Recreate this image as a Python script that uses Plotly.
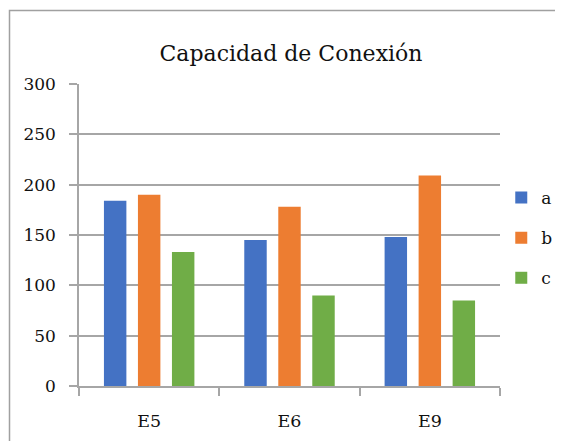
import plotly.graph_objects as go

categories = ["E5", "E6", "E9"]
series_names = ["a", "b", "c"]
values_a = [184, 145, 148]
values_b = [190, 178, 209]
values_c = [133, 90, 85]
colors = ["#4472C4", "#ED7D31", "#70AD47"]
y_ticks = [0, 50, 100, 150, 200, 250, 300]

FONT = "DejaVu Serif"
GRID = "#A6A6A6"
TXT = "#111111"

W, H = 555, 433  # page has an 8px body margin
L, R, T, B = 71, 492, 76, 378  # plot area in figure pixels
PW, PH = R - L, B - T

fig = go.Figure()
for name, vals, col in zip(series_names, [values_a, values_b, values_c], colors):
    fig.add_trace(go.Bar(x=categories, y=vals, name=name, marker_color=col,
                         marker_line_width=0, legendgroup=name))

fig.update_layout(
    width=W, height=H,
    margin=dict(l=L, r=W - R, t=T, b=H - B, pad=0, autoexpand=False),
    paper_bgcolor="white", plot_bgcolor="white",
    font=dict(family=FONT, size=17, color=TXT),
    title=dict(text="Capacidad de Conexión", x=283 / W, xanchor="center",
               y=1 - 45 / H, yanchor="middle",
               font=dict(family=FONT, size=22, color=TXT)),
    bargap=0.273, bargroupgap=0.34,
    showlegend=True,
    legend=dict(x=1.003, xanchor="left", y=0.49, yanchor="middle",
                traceorder="grouped", tracegroupgap=15,
                font=dict(family=FONT, size=17, color=TXT),
                bgcolor="rgba(0,0,0,0)"),
    xaxis=dict(showgrid=False, showline=True, linecolor=GRID, linewidth=1.5,
               ticks="outside", ticklen=8, tickcolor=GRID, tickwidth=1.5,
               tickson="boundaries", ticklabelstandoff=18, automargin=False,
               tickfont=dict(family=FONT, size=17.5, color=TXT)),
    yaxis=dict(range=[0, 300], tickvals=y_ticks, showgrid=True, gridcolor=GRID,
               gridwidth=1.5, showline=True, linecolor=GRID, linewidth=1.5,
               ticks="outside", ticklen=8, tickcolor=GRID, tickwidth=1.5,
               ticklabelstandoff=10, zeroline=False, automargin=False,
               tickfont=dict(family=FONT, size=17, color=TXT)),
    shapes=[dict(type="rect", xref="paper", yref="paper",
                 x0=(1.5 - L) / PW, x1=(620 - L) / PW,
                 y0=(B - 520) / PH, y1=(B - 2.5) / PH,
                 line=dict(color="#A0A0A0", width=1.5), fillcolor="rgba(0,0,0,0)",
                 layer="below")],
)

fig.write_html("out.html")
